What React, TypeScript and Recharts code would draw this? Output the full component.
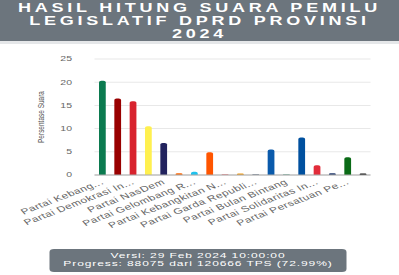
import { BarChart, Bar, XAxis, YAxis, CartesianGrid, Cell } from "recharts";

const parties = [
  "Partai Kebang...",
  "Partai Gerakan Indonesia Raya",
  "Partai Demokrasi In...",
  "Partai Golongan Karya",
  "Partai NasDem",
  "Partai Buruh",
  "Partai Gelombang R...",
  "Partai Keadilan Sejahtera",
  "Partai Kebangkitan N...",
  "Partai Hanura",
  "Partai Garda Republi...",
  "Partai Amanat Nasional",
  "Partai Bulan Bintang",
  "Partai Demokrat",
  "Partai Solidaritas In...",
  "Partai Perindo",
  "Partai Persatuan Pe...",
  "Partai Ummat",
];

const votePercent = [
  20.3, 16.5, 15.9, 10.5, 6.9, 0.4, 0.7, 4.9, 0.1, 0.3, 0.1, 5.5, 0.1, 8.1,
  2.1, 0.4, 3.8, 0.3,
];

const partyColors = [
  "#0b7a4f",
  "#990000",
  "#d8232e",
  "#fff04f",
  "#22235e",
  "#ff6600",
  "#1fc2ee",
  "#ff5500",
  "#e6393f",
  "#f29a11",
  "#1b3452",
  "#0a5aab",
  "#2a8a6a",
  "#00509f",
  "#e22c3a",
  "#20386c",
  "#0a6a16",
  "#111111",
];

const yTicks = [0, 5, 10, 15, 20, 25];

const data = parties.map((name, i) => ({ name, value: votePercent[i] }));

function PartyTick(props: any) {
  const { x, y, payload } = props;
  return (
    <g transform={`translate(${x},${y})`}>
      <text
        x={0}
        y={0}
        dy={3}
        textAnchor="end"
        fill="#666"
        fontSize={8}
        letterSpacing={0.3}
        transform="rotate(-30)"
      >
        {payload.value}
      </text>
    </g>
  );
}

export default function App() {
  return (
    <div
      style={{
        position: "absolute",
        left: 0,
        top: 0,
        width: 266,
        height: 275,
        background: "#fff",
        transform: "scaleX(1.5)",
        transformOrigin: "0 0",
        fontFamily: "'Liberation Sans', Arial, sans-serif",
      }}
    >
      <div
        style={{
          height: 44,
          background: "#6c757d",
          borderBottom: "3px solid #e5e7e9",
          color: "#fff",
          fontWeight: "bold",
          fontSize: 12,
          lineHeight: "13px",
          letterSpacing: 2.5,
          textAlign: "center",
          paddingTop: 2,
          boxSizing: "border-box",
        }}
      >
        HASIL HITUNG SUARA PEMILU
        <br />
        LEGISLATIF DPRD PROVINSI
        <br />
        2024
      </div>

      <div style={{ position: "absolute", left: 0, top: 47 }}>
        <BarChart
          width={266}
          height={200}
          data={data}
          margin={{ top: 12, right: 19, left: 20, bottom: 0 }}
        >
          <CartesianGrid vertical={false} stroke="#e8e8e8" />
          <XAxis
            dataKey="name"
            interval={1}
            height={72}
            tickLine={false}
            tickSize={4}
            tickMargin={2}
            stroke="#aaa"
            tick={<PartyTick />}
          />
          <YAxis
            width={43}
            domain={[0, 25]}
            ticks={yTicks}
            axisLine={false}
            tickLine={false}
            tickMargin={9}
            tick={{ fontSize: 7, fill: "#666" }}
            label={{
              value: "Persentase Suara",
              angle: -90,
              position: "insideLeft",
              offset: 7,
              style: { textAnchor: "middle", fontSize: 6.5, fill: "#555" },
            }}
          />
          <Bar
            dataKey="value"
            barSize={4.5}
            radius={[1.5, 1.5, 0, 0]}
            isAnimationActive={false}
          >
            {data.map((d, i) => (
              <Cell key={d.name} fill={partyColors[i]} />
            ))}
          </Bar>
        </BarChart>
      </div>

      <div
        style={{
          position: "absolute",
          left: 33,
          top: 249,
          width: 198,
          height: 23,
          background: "#6c757d",
          borderRadius: 3,
          color: "#fff",
          fontSize: 8,
          lineHeight: "8px",
          letterSpacing: 0.6,
          textAlign: "center",
          paddingTop: 3,
          boxSizing: "border-box",
        }}
      >
        Versi: 29 Feb 2024 10:00:00
        <br />
        Progress: 88075 dari 120666 TPS (72.99%)
      </div>
    </div>
  );
}
